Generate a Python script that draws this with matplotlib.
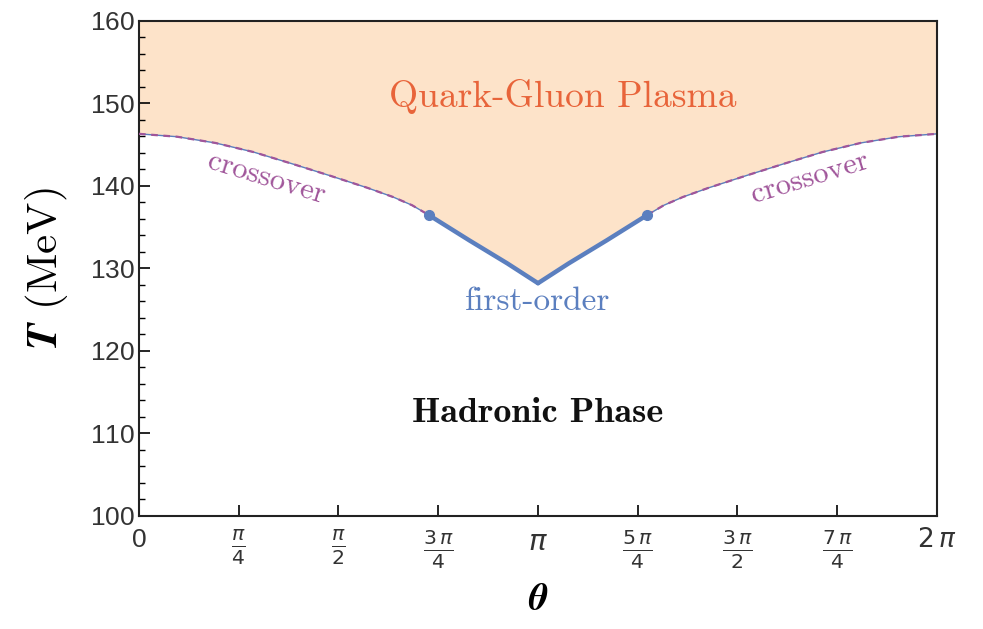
"""Phase diagram T(theta): Quark-Gluon Plasma vs Hadronic Phase."""
import numpy as np
import matplotlib.pyplot as plt

# crossover branch (left half), theta in rad, T in MeV
theta_cross = [0.0, 0.3, 0.6, 0.9, 1.2, 1.5, 1.8, 2.0, 2.15, 2.283]
T_cross = [146.3, 145.95, 145.2, 144.1, 142.7, 141.25, 139.75, 138.65,
           137.65, 136.45]
# first-order branch (left half)
theta_first = [2.283, 2.6, 2.9, np.pi]
T_first = [136.45, 133.4, 130.6, 128.2]

tick_pos = [0, np.pi / 4, np.pi / 2, 3 * np.pi / 4, np.pi,
            5 * np.pi / 4, 3 * np.pi / 2, 7 * np.pi / 4, 2 * np.pi]
tick_labels = ["0", r"$\frac{\pi}{4}$", r"$\frac{\pi}{2}$", r"$\frac{3\,\pi}{4}$",
               r"$\pi$", r"$\frac{5\,\pi}{4}$", r"$\frac{3\,\pi}{2}$",
               r"$\frac{7\,\pi}{4}$", r"$2\,\pi$"]

plt.rcParams["axes.formatter.use_mathtext"] = True


def mirror(th, T):
    """Reflect the left half onto theta -> 2pi - theta."""
    th = np.asarray(th)
    T = np.asarray(T)
    return 2 * np.pi - th[::-1], T[::-1]


def main() -> None:
    fig = plt.figure(figsize=(9.83, 6.29), dpi=100)
    ax = fig.add_axes([0.1414, 0.1797, 0.8118, 0.7873])

    rth_c, rT_c = mirror(theta_cross, T_cross)
    rth_f, rT_f = mirror(theta_first, T_first)

    th_all = np.concatenate([theta_cross, theta_first[1:], rth_f[1:], rth_c[1:]])
    T_all = np.concatenate([T_cross, T_first[1:], rT_f[1:], rT_c[1:]])
    ax.fill_between(th_all, T_all, 160, color="#fde3c9", lw=0, zorder=1)

    blue = "#5b7fbf"
    purple = "#a0559a"
    for th, T in [(theta_cross, T_cross), (rth_c, rT_c)]:
        ax.plot(th, T, color=blue, lw=1.0, zorder=2)
        ax.plot(th, T, color=purple, lw=1.6, ls=(0, (3, 2.5)), zorder=3)
    for th, T in [(theta_first, T_first), (rth_f, rT_f)]:
        ax.plot(th, T, color=blue, lw=3.2, zorder=4, solid_capstyle="round")
    ax.plot([theta_first[0], rth_f[-1]], [T_first[0], rT_f[-1]], "o",
            color=blue, ms=7, zorder=5)

    ax.text(3.34, 150.8, "Quark-Gluon Plasma", family="cmr10", fontsize=27,
            color="#e8643a", ha="center", va="center")
    ax.text(np.pi, 112.4, "Hadronic Phase", family="cmb10", fontsize=26,
            color="#111111", ha="center", va="center")
    ax.text(np.pi, 126.0, "first-order", family="cmr10", fontsize=24,
            color=blue, ha="center", va="center")
    ax.text(1.0, 140.95, "crossover", family="cmr10", fontsize=22,
            color=purple, ha="center", va="center", rotation=-17,
            fontweight="bold")
    ax.text(2 * np.pi - 1.0, 140.95, "crossover", family="cmr10", fontsize=22,
            color=purple, ha="center", va="center", rotation=17,
            fontweight="bold")

    ax.set_xlim(0, 2 * np.pi)
    ax.set_ylim(100, 160)
    ax.set_xticks(tick_pos)
    ax.set_xticklabels(tick_labels)
    ax.set_yticks(range(100, 161, 10))
    ax.set_yticks(range(100, 161, 2), minor=True)
    ax.tick_params(axis="both", which="major", direction="in", length=8,
                   width=1.2, labelsize=19, right=False, top=False, pad=3)
    ax.tick_params(axis="x", which="major", pad=9)
    ax.tick_params(axis="y", which="minor", direction="in", length=4,
                   width=1.0, right=False)
    for lab in ax.get_xticklabels() + ax.get_yticklabels():
        lab.set_family(["Liberation Sans", "DejaVu Sans"])
        lab.set_color("#333333")
    for lab in ax.get_xticklabels()[1:-1]:
        lab.set_fontsize(21)
    for sp in ax.spines.values():
        sp.set_linewidth(1.5)
        sp.set_color("#222222")

    ax.set_ylabel(r"$\boldsymbol{T}$ (MeV)", family="cmr10", fontsize=31,
                  math_fontfamily="cm", labelpad=14)
    ax.set_xlabel(r"$\boldsymbol{\theta}$", fontsize=27, math_fontfamily="cm",
                  labelpad=8)

    fig.savefig("out.png", dpi=100)


if __name__ == "__main__":
    main()
